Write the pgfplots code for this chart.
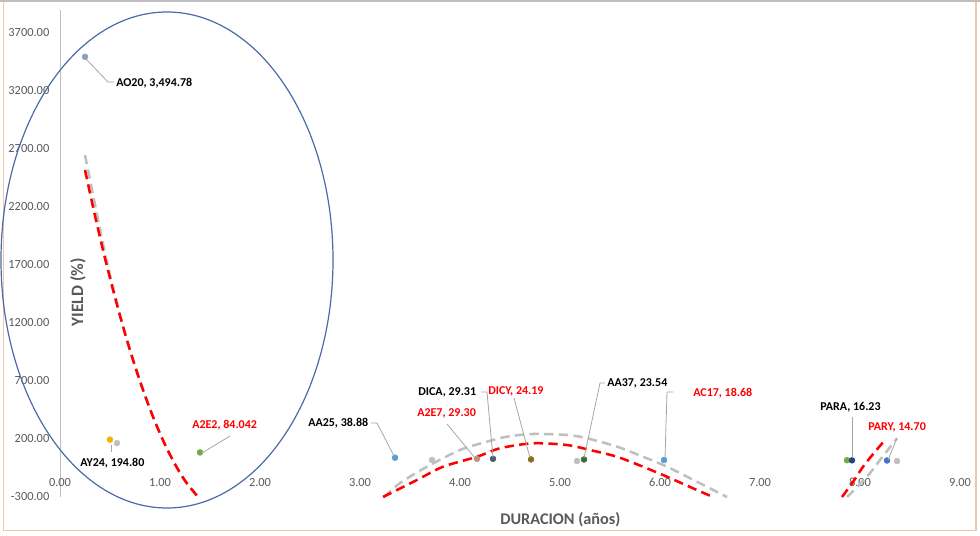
\documentclass[border=0pt]{standalone}
\usepackage{pgfplots}
\pgfplotsset{compat=1.18}
\usepackage{fontspec}
\setmainfont{Carlito}
\definecolor{tickgray}{HTML}{595959}
\definecolor{axgray}{HTML}{BFBFBF}
\definecolor{leader}{HTML}{A6A6A6}
\definecolor{trendgray}{HTML}{BFBFBF}
\definecolor{ellblue}{HTML}{4A6AA8}
\definecolor{cAO}{HTML}{8FA0C0}
\definecolor{cAY}{HTML}{F0B400}
\definecolor{cGr}{HTML}{BFBFBF}
\definecolor{cA2E2}{HTML}{70AD47}
\definecolor{cAA25}{HTML}{5B9BD5}
\definecolor{cA2E7}{HTML}{C09080}
\definecolor{cDICA}{HTML}{4F5A6A}
\definecolor{cDICY}{HTML}{8C6D1F}
\definecolor{cAA37}{HTML}{3E6B35}
\definecolor{cAC17}{HTML}{5B9BD5}
\definecolor{cPARA}{HTML}{264478}
\definecolor{cPARAg}{HTML}{70AD47}
\definecolor{cPARY}{HTML}{4472C4}
\definecolor{border}{HTML}{F4C5A8}
\begin{document}
\begin{tikzpicture}
\useasboundingbox (-45pt,-28.5pt) rectangle (690pt,372.75pt);
\begin{axis}[
  at={(0,0)}, anchor=south west,
  scale only axis, width=675pt, height=365.4pt,
  xmin=0, xmax=9, ymin=-300, ymax=3900,
  clip=false,
  axis x line=middle, axis y line=left,
  axis line style={-},
  x axis line style={draw=none},
  y axis line style={draw=axgray, line width=0.6pt},
  hide obscured x ticks=false,
  hide obscured y ticks=false,
  major tick length=0pt,
  xtick={0,1,...,9},
  ytick={-300,200,...,3700},
  /pgf/number format/assume math mode=true,
  xticklabel={\pgfmathprintnumber[fixed,fixed zerofill,precision=2]{\tick}},
  yticklabel={\pgfmathprintnumber[fixed,fixed zerofill,precision=2,1000 sep={}]{\tick}},
  xticklabel style={anchor=center, yshift=-15pt, font=\fontsize{9.3}{11}\selectfont, text=tickgray},
  yticklabel style={anchor=east, xshift=-4.5pt, font=\fontsize{9.3}{11}\selectfont, text=tickgray},
  xlabel={DURACION (años)},
  ylabel={YIELD (\%)},
  xlabel style={at={(rel axis cs:0.556,-0.047)}, anchor=center, font=\fontsize{12.2}{14}\selectfont\bfseries, text=tickgray},
  ylabel style={at={(rel axis cs:0.02,0.42)}, anchor=center, rotate=0, font=\fontsize{13}{15}\selectfont\bfseries, text=tickgray},
]
% gray trend lines
\addplot[trendgray, line width=1.9pt, dash pattern=on 7pt off 4pt, smooth] coordinates {
 (0.25,2648) (0.35,2220) (0.45,1800) (0.55,1440) (0.65,1110) (0.75,828) (0.85,575) (0.95,349) (1.05,152) (1.15,-17) (1.25,-159) (1.38,-300)};
\addplot[trendgray, line width=1.9pt, dash pattern=on 7pt off 4pt, smooth] coordinates {
 (3.24,-300) (3.40,-180) (3.67,-39) (4.00,105) (4.27,177) (4.47,220) (4.73,243) (5.07,235) (5.27,206) (5.57,134) (5.83,47) (6.07,-39) (6.40,-182) (6.67,-300)};
\addplot[trendgray, line width=1.9pt, dash pattern=on 7pt off 4pt, smooth] coordinates {
 (7.87,-300) (8.07,-125) (8.20,19) (8.37,206)};
% red trend lines
\addplot[red, line width=1.9pt, dash pattern=on 7pt off 4pt, smooth] coordinates {
 (0.25,2519) (0.35,2124) (0.45,1758) (0.55,1421) (0.65,1110) (0.75,828) (0.85,575) (0.95,349) (1.05,152) (1.15,-17) (1.25,-159) (1.38,-300)};
\addplot[red, line width=1.9pt, dash pattern=on 7pt off 4pt, smooth] coordinates {
 (3.23,-300) (3.57,-153) (3.83,-39) (4.17,47) (4.40,120) (4.73,163) (5.07,148) (5.30,105) (5.57,47) (5.83,-39) (6.07,-125) (6.20,-175) (6.33,-225) (6.53,-300)};
\addplot[red, line width=1.9pt, dash pattern=on 7pt off 4pt, smooth] coordinates {
 (7.82,-300) (7.93,-170) (8.03,-39) (8.14,80) (8.25,191)};
% points
\addplot[only marks, mark=*, mark size=2.2pt, cAO] coordinates {(0.25,3494.78)};
\addplot[only marks, mark=*, mark size=2.2pt, cGr] coordinates {(0.57,165) (3.72,19) (5.17,10) (8.37,10)};
\addplot[only marks, mark=*, mark size=2.2pt, cAY] coordinates {(0.50,194.80)};
\addplot[only marks, mark=*, mark size=2.2pt, cA2E2] coordinates {(1.40,84.042)};
\addplot[only marks, mark=*, mark size=2.2pt, cAA25] coordinates {(3.35,38.88)};
\addplot[only marks, mark=*, mark size=2.2pt, cA2E7] coordinates {(4.17,29.30)};
\addplot[only marks, mark=*, mark size=2.2pt, cDICA] coordinates {(4.33,29.31)};
\addplot[only marks, mark=*, mark size=2.2pt, cDICY] coordinates {(4.71,24.19)};
\addplot[only marks, mark=*, mark size=2.2pt, cAA37] coordinates {(5.24,23.54)};
\addplot[only marks, mark=*, mark size=2.2pt, cAC17] coordinates {(6.04,18.68)};
\addplot[only marks, mark=*, mark size=2.2pt, cPARAg] coordinates {(7.87,17)};
\addplot[only marks, mark=*, mark size=2.2pt, cPARA] coordinates {(7.92,16.23)};
\addplot[only marks, mark=*, mark size=2.2pt, cPARY] coordinates {(8.27,14.70)};
\end{axis}
\begin{scope}[shift={(-45pt,372.75pt)}, x=0.75pt, y=-0.75pt]
  % frame
  \draw[border, line width=1.2pt] (3.5,1) -- (3.5,530.5) -- (976,530.5) -- (976,1);
  \draw[axgray, line width=0.8pt] (0,1) -- (980,1);
  % ellipse
  \draw[ellblue, line width=0.9pt] (167,260) ellipse [x radius=124.5pt, y radius=186pt];
  % leader lines
  \begin{scope}[leader, line width=0.6pt]
    \draw (86,59) -- (108,82) -- (114,82);
    \draw (111,445) -- (111,452);
    \draw (202,453) -- (230,436);
    \draw (371,423) -- (377,423) -- (394,456);
    \draw (447,424) -- (475,458);
    \draw (481,392) -- (487,392) -- (493,458);
    \draw (514,398) -- (530,458);
    \draw (605,383) -- (600,383) -- (584,458);
    \draw (673,392) -- (667,392) -- (665,458);
    \draw (852,417) -- (852,458);
    \draw (897,438) -- (888,460);
  \end{scope}
  % labels
  \begin{scope}[every node/.style={anchor=west, inner sep=0pt, font=\fontsize{9}{10}\selectfont\bfseries}]
    \node[text=black] at (116,83) {AO20, 3,494.78};
    \node[text=black] at (80,463) {AY24, 194.80};
    \node[text=red] at (192,425) {A2E2, 84.042};
    \node[text=black] at (308,423) {AA25, 38.88};
    \node[text=red] at (417,413) {A2E7, 29.30};
    \node[text=black] at (418,392) {DICA, 29.31};
    \node[text=red] at (488,391) {DICY, 24.19};
    \node[text=black] at (607,383) {AA37, 23.54};
    \node[text=red] at (693,393) {AC17, 18.68};
    \node[text=black] at (820,407) {PARA, 16.23};
    \node[text=red] at (868,427) {PARY, 14.70};
  \end{scope}
\end{scope}
\end{tikzpicture}
\end{document}
